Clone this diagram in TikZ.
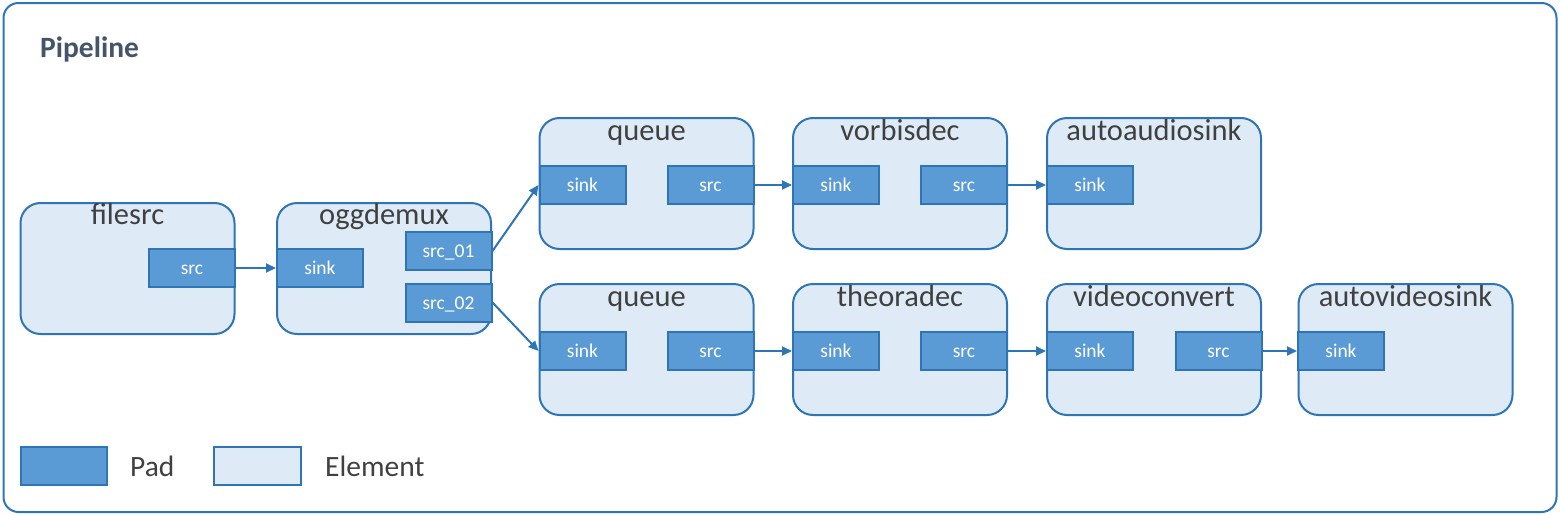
\documentclass[tikz,border=0pt]{standalone}
\usepackage{fontspec}
\setmainfont{Carlito}
\usetikzlibrary{arrows.meta,positioning}
\definecolor{gstline}{HTML}{2E75B6}
\definecolor{gstpad}{HTML}{5B9BD5}
\definecolor{gstelem}{HTML}{DEEBF7}
\definecolor{gsttext}{HTML}{404040}
\definecolor{gsthead}{HTML}{44546A}

\begin{document}
\begin{tikzpicture}[x=1pt, y=-1pt,
    element/.style={draw=gstline, line width=2pt, fill=gstelem, rounded corners=20pt,
        minimum width=214pt, minimum height=131pt, inner sep=0pt},
    pad/.style={draw=gstline, line width=2pt, fill=gstpad, minimum width=86pt,
        minimum height=38pt, inner sep=0pt, text height=13pt, text depth=0pt,
        text=white, font=\fontsize{19.5}{22}\selectfont},
    title/.style={anchor=base, inner sep=0pt, text=gsttext, font=\fontsize{30.5}{33}\selectfont},
    legend/.style={anchor=base west, inner sep=0pt, text=gsttext, font=\fontsize{29.5}{32}\selectfont},
    link/.style={-{Triangle[length=10pt, width=9pt]}, line width=2pt, draw=gstline}]
    \useasboundingbox (0,0) rectangle (1560,514);

    % Frame
    \node[draw=gstline, line width=2pt, rounded corners=15pt, minimum width=1553pt,
        minimum height=509pt, inner sep=0pt] (pipeline) at (780,257.5) {};
    \node[anchor=base west, inner sep=0pt, text=gsthead, font=\bfseries\fontsize{29.5}{32}\selectfont]
        (pipelinename) at (40,57) {Pipeline};

    % Elements
    \node[element] (fs) at (127.5,268.5) {};
    \node[element] (od) at (384,268.5) {};
    \node[element] (qa) at (646.5,183.5) {};
    \node[element] (vd) at (900,183.5) {};
    \node[element] (aa) at (1154,183.5) {};
    \node[element] (qv) at (646.5,349.5) {};
    \node[element] (td) at (900,349.5) {};
    \node[element] (vc) at (1154,349.5) {};
    \node[element] (av) at (1405.5,349.5) {};

    % Titles
    \node[title] (fs-title) at ([yshift=-22pt]fs.north) {filesrc};
    \node[title] (od-title) at ([yshift=-22pt]od.north) {oggdemux};
    \node[title] (qa-title) at ([yshift=-23pt]qa.north) {queue};
    \node[title] (vd-title) at ([yshift=-23pt]vd.north) {vorbisdec};
    \node[title] (aa-title) at ([yshift=-23pt]aa.north) {autoaudiosink};
    \node[title] (qv-title) at ([yshift=-23pt]qv.north) {queue};
    \node[title] (td-title) at ([yshift=-23pt]td.north) {theoradec};
    \node[title] (vc-title) at ([yshift=-23pt]vc.north) {videoconvert};
    \node[title] (av-title) at ([yshift=-23pt]av.north) {autovideosink};

    % Pads
    \node[pad] (fs-src) at (192,268) {src};
    \node[pad] (od-sink) at (320,268) {sink};
    \node[pad] (od-src1) at (448.5,251) {src\_01};
    \node[pad] (od-src2) at (448.5,302.5) {src\_02};
    \node[pad] (qa-sink) at (582.5,185) {sink};
    \node[pad] (qa-src) at (710.5,185) {src};
    \node[pad] (vd-sink) at (836,185) {sink};
    \node[pad] (vd-src) at (964,185) {src};
    \node[pad] (aa-sink) at (1090,185) {sink};
    \node[pad] (qv-sink) at (582.5,351) {sink};
    \node[pad] (qv-src) at (710.5,351) {src};
    \node[pad] (td-sink) at (836,351) {sink};
    \node[pad] (td-src) at (964,351) {src};
    \node[pad] (vc-sink) at (1090,351) {sink};
    \node[pad] (vc-src) at (1218.5,351) {src};
    \node[pad] (av-sink) at (1341,351) {sink};

    % Links
    \draw[link] (fs-src) -- (od-sink);
    \draw[link] (od-src1.east) -- (qa-sink.west);
    \draw[link] (od-src2.east) -- (qv-sink.west);
    \draw[link] (qa-src) -- (vd-sink);
    \draw[link] (vd-src) -- (aa-sink);
    \draw[link] (qv-src) -- (td-sink);
    \draw[link] (td-src) -- (vc-sink);
    \draw[link] (vc-src) -- (av-sink);

    % Legend
    \node[pad] (key-pad) at (64,466) {};
    \node[legend] (key-pad-text) at (130,476) {Pad};
    \node[draw=gstline, line width=2pt, fill=gstelem, minimum width=87pt, minimum height=38pt,
        inner sep=0pt] (key-elem) at (257.5,466) {};
    \node[legend] (key-elem-text) at (325,476) {Element};
\end{tikzpicture}
\end{document}
